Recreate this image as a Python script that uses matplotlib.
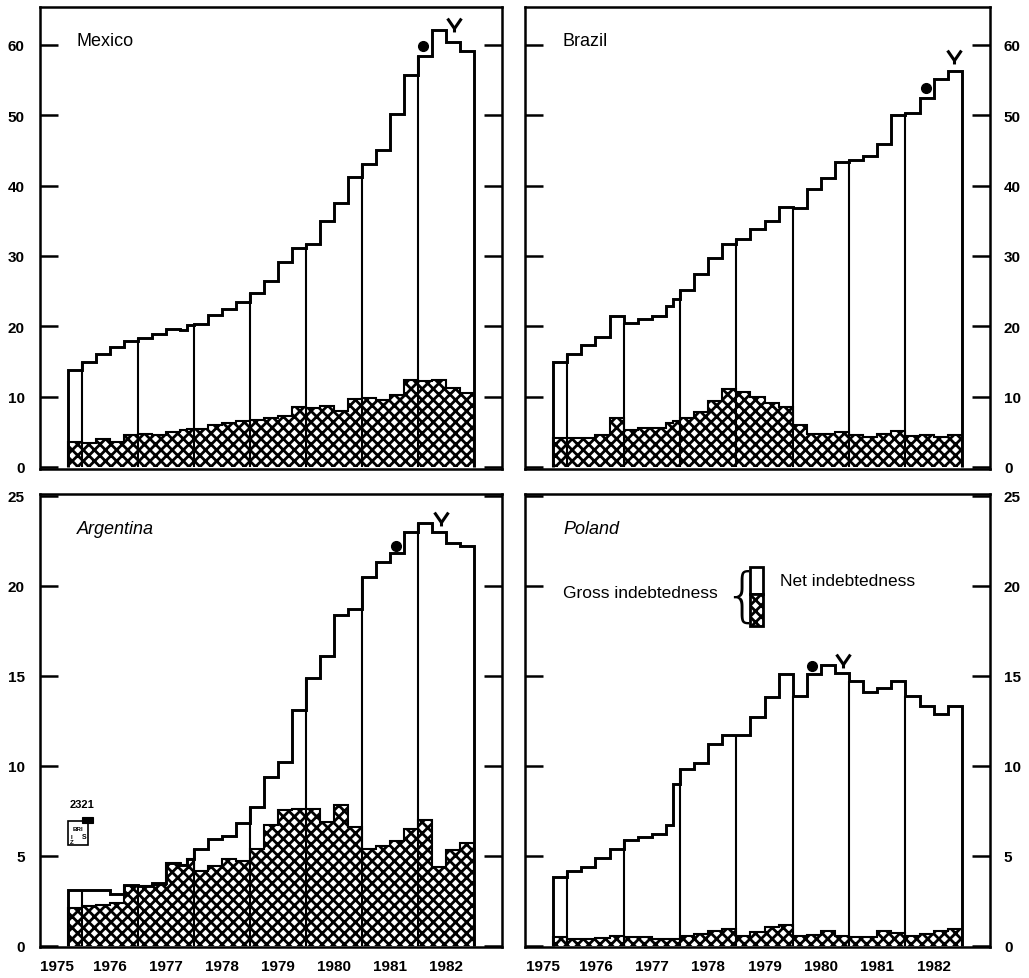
import numpy as np
import matplotlib.pyplot as plt
from matplotlib.path import Path
from matplotlib.patches import Rectangle

plt.rcParams['font.family'] = ['Liberation Sans', 'DejaVu Sans']
plt.rcParams['hatch.linewidth'] = 2.0

HATCH = 'xxx'

# quarterly periods, end-1977 shown twice (break in series)
periods = ['1975Q4']
for y in range(1976, 1983):
    for q in range(1, 5):
        if y == 1977 and q == 4:
            periods += ['1977Q4a', '1977Q4b']
        else:
            periods.append(f'{y}Q{q}')

# gross / net indebtedness, US$ bn
mexico_gross = [13.8,
                14.9, 16.1, 17.0, 17.9,
                18.3, 18.9, 19.6, 19.4, 20.2,
                20.3, 21.6, 22.4, 23.4,
                24.7, 26.4, 29.1, 31.1,
                31.7, 34.9, 37.5, 41.2,
                43.1, 45.1, 50.2, 55.7,
                58.5, 62.1, 60.4, 59.2]
mexico_net = [3.5,
              3.4, 3.9, 3.5, 4.6,
              4.7, 4.5, 5.0, 5.3, 5.4,
              5.4, 5.9, 6.2, 6.5,
              6.7, 7.0, 7.2, 8.5,
              8.4, 8.7, 8.0, 9.6,
              9.8, 9.5, 10.2, 12.4,
              12.2, 12.3, 11.2, 10.5]

brazil_gross = [14.9,
                16.0, 17.4, 18.5, 21.4,
                20.5, 21.0, 21.4, 22.9, 23.9,
                25.2, 27.4, 29.7, 31.7,
                32.4, 33.8, 35.0, 36.9,
                36.8, 39.5, 41.1, 43.4,
                43.7, 44.2, 45.9, 50.0,
                50.3, 52.4, 55.2, 56.3]
brazil_net = [4.1,
              4.1, 4.1, 4.6, 6.9,
              5.3, 5.5, 5.5, 6.3, 6.5,
              6.9, 7.8, 9.4, 11.1,
              10.6, 9.9, 9.1, 8.5,
              5.9, 4.7, 4.7, 5.0,
              4.5, 4.2, 4.7, 5.1,
              4.4, 4.6, 4.2, 4.5]

argentina_gross = [3.1,
                   3.1, 3.1, 2.9, 3.35,
                   3.33, 3.46, 4.6, 4.5, 4.8,
                   5.4, 5.95, 6.1, 6.8,
                   7.7, 9.4, 10.2, 13.1,
                   14.85, 16.1, 18.4, 18.7,
                   20.5, 21.3, 21.8, 23.0,
                   23.5, 23.0, 22.4, 22.2]
argentina_net = [2.07,
                 2.19, 2.26, 2.4, 3.3,
                 3.3, 3.4, 4.6, 4.5, 4.8,
                 4.17, 4.44, 4.8, 4.7,
                 5.4, 6.7, 7.55, 7.6,
                 7.6, 6.9, 7.8, 6.6,
                 5.4, 5.55, 5.8, 6.5,
                 7.0, 4.35, 5.3, 5.7]

poland_gross = [3.8,
                4.13, 4.35, 4.85, 5.4,
                5.9, 6.05, 6.2, 6.7, 9.0,
                9.8, 10.15, 11.2, 11.7,
                11.7, 12.7, 13.8, 15.1,
                13.9, 15.1, 15.6, 15.15,
                14.7, 14.1, 14.3, 14.7,
                13.9, 13.3, 12.9, 13.3]
poland_net = [0.46,
              0.4, 0.4, 0.42, 0.55,
              0.46, 0.46, 0.37, 0.37, 0.4,
              0.52, 0.65, 0.83, 0.93,
              0.55, 0.74, 1.02, 1.17,
              0.55, 0.59, 0.83, 0.55,
              0.46, 0.46, 0.8, 0.69,
              0.55, 0.65, 0.83, 0.93]

# (x, y) of the dot and the "V" sign above each series
mexico_marks = [(1982.08, 59.9), (1982.65, 62.9)]
brazil_marks = [(1982.36, 53.9), (1982.86, 58.3)]
argentina_marks = [(1981.6, 22.2), (1982.41, 23.7)]
poland_marks = [(1980.34, 15.56), (1980.9, 15.83)]

years = [1975, 1976, 1977, 1978, 1979, 1980, 1981, 1982]
year_label_x = [1975.56] + [y + 0.5 for y in years[1:]]


def quarter_start(p):
    start = int(p[:4]) + (int(p[5]) - 1) / 4
    if p.endswith('b'):
        start += 0.125
    return start


edges = np.array([quarter_start(p) for p in periods] + [1983.0])
year_idx = [i for i, p in enumerate(periods) if p.endswith('Q1')]

vee = Path([(-1, 1), (0, -0.45), (1, 1), (0, -0.45), (0, -1)],
           [Path.MOVETO, Path.LINETO, Path.LINETO, Path.MOVETO, Path.LINETO])


def draw_panel(ax, gross, net, marks):
    gross = np.array(gross)
    net = np.array(net)
    ax.fill_between(edges, 0, np.append(net, net[-1]), step='post',
                    facecolor='white', edgecolor='black', hatch=HATCH, linewidth=0)
    ax.stairs(net, edges, baseline=0, color='black', lw=1.5)
    ax.stairs(gross, edges, baseline=0, color='black', lw=2.1)
    ax.vlines(edges[year_idx], 0, gross[year_idx], color='black', lw=1.5)
    (dx, dy), (vx, vy) = marks
    ax.plot(dx, dy, 'o', color='black', ms=7)
    ax.plot(vx, vy, marker=vee, color='black', ms=10, mew=2.2, fillstyle='none')
    ax.set_xlim(1975.25, 1983.5)
    for s in ax.spines.values():
        s.set_linewidth(1.8)


fig = plt.figure(figsize=(10.29, 9.79), dpi=100)
ax_mx = fig.add_axes([0.0389, 0.5199, 0.449, 0.4719])
ax_br = fig.add_axes([0.5102, 0.5199, 0.4519, 0.4719])
ax_ar = fig.add_axes([0.0389, 0.0317, 0.449, 0.4627])
ax_pl = fig.add_axes([0.5102, 0.0317, 0.4519, 0.4627])

draw_panel(ax_mx, mexico_gross, mexico_net, mexico_marks)
draw_panel(ax_br, brazil_gross, brazil_net, brazil_marks)
draw_panel(ax_ar, argentina_gross, argentina_net, argentina_marks)
draw_panel(ax_pl, poland_gross, poland_net, poland_marks)

for ax in (ax_mx, ax_br):
    ax.set_ylim(-0.3, 65.4)
    ax.set_yticks(range(0, 61, 10))
    ax.set_xticks([])
for ax in (ax_ar, ax_pl):
    ax.set_ylim(-0.07, 25.1)
    ax.set_yticks(range(0, 26, 5))
    ax.set_xticks(year_label_x)
    ax.set_xticklabels([str(y) for y in years], fontsize=11, fontweight='bold')
    ax.tick_params(axis='x', length=0, pad=9)

for ax in (ax_mx, ax_ar):
    ax.tick_params(axis='y', direction='in', length=13, width=1.8, left=True, right=True,
                   labelleft=True, labelright=False, pad=11, labelsize=11)
for ax in (ax_br, ax_pl):
    ax.tick_params(axis='y', direction='in', length=13, width=1.8, left=True, right=True,
                   labelleft=False, labelright=True, pad=10, labelsize=11)
for ax in fig.axes:
    for lab in ax.get_yticklabels():
        lab.set_fontweight('bold')

ax_mx.text(0.08, 0.9286, 'Mexico', transform=ax_mx.transAxes, fontsize=13, va='center')
ax_br.text(0.0817, 0.9286, 'Brazil', transform=ax_br.transAxes, fontsize=13, va='center')
ax_ar.text(0.08, 0.9227, 'Argentina', transform=ax_ar.transAxes, fontsize=13,
           va='center', style='italic')
ax_pl.text(0.0817, 0.9227, 'Poland', transform=ax_pl.transAxes, fontsize=13,
           va='center', style='italic')

# key in the Poland panel
ax_pl.text(0.0817, 0.7815, 'Gross indebtedness', transform=ax_pl.transAxes,
           fontsize=12.5, va='center')
ax_pl.text(0.4667, 0.772, '{', transform=ax_pl.transAxes, fontsize=42,
           va='center', ha='center', family='DejaVu Sans', fontweight='light')
ax_pl.add_patch(Rectangle((0.4839, 0.7792), 0.0279, 0.0597, transform=ax_pl.transAxes,
                          facecolor='white', edgecolor='black', lw=2))
ax_pl.add_patch(Rectangle((0.4839, 0.7086), 0.0279, 0.0706, transform=ax_pl.transAxes,
                          facecolor='white', edgecolor='black', lw=2, hatch=HATCH))
ax_pl.text(0.5484, 0.808, 'Net indebtedness', transform=ax_pl.transAxes,
           fontsize=12.5, va='center')

# graph number and small logo in the Argentina panel
ax_ar.text(0.0909, 0.3157, '2321', transform=ax_ar.transAxes, fontsize=8,
           fontweight='bold', ha='center', va='center')
ax_ar.add_patch(Rectangle((0.0606, 0.2252), 0.043, 0.052, transform=ax_ar.transAxes,
                          facecolor='white', edgecolor='black', lw=1.2))
ax_ar.add_patch(Rectangle((0.09, 0.274), 0.024, 0.013, transform=ax_ar.transAxes,
                          facecolor='black', edgecolor='black', lw=0.8))
ax_ar.text(0.082, 0.262, 'BRI', transform=ax_ar.transAxes, fontsize=4.5,
           fontweight='bold', ha='center', va='center')
ax_ar.text(0.068, 0.238, 'I\nZ', transform=ax_ar.transAxes, fontsize=4.5,
           fontweight='bold', ha='center', va='center', linespacing=0.9)
ax_ar.text(0.095, 0.243, 'S', transform=ax_ar.transAxes, fontsize=5,
           fontweight='bold', ha='center', va='center')

fig.savefig('out.png', dpi=100)
